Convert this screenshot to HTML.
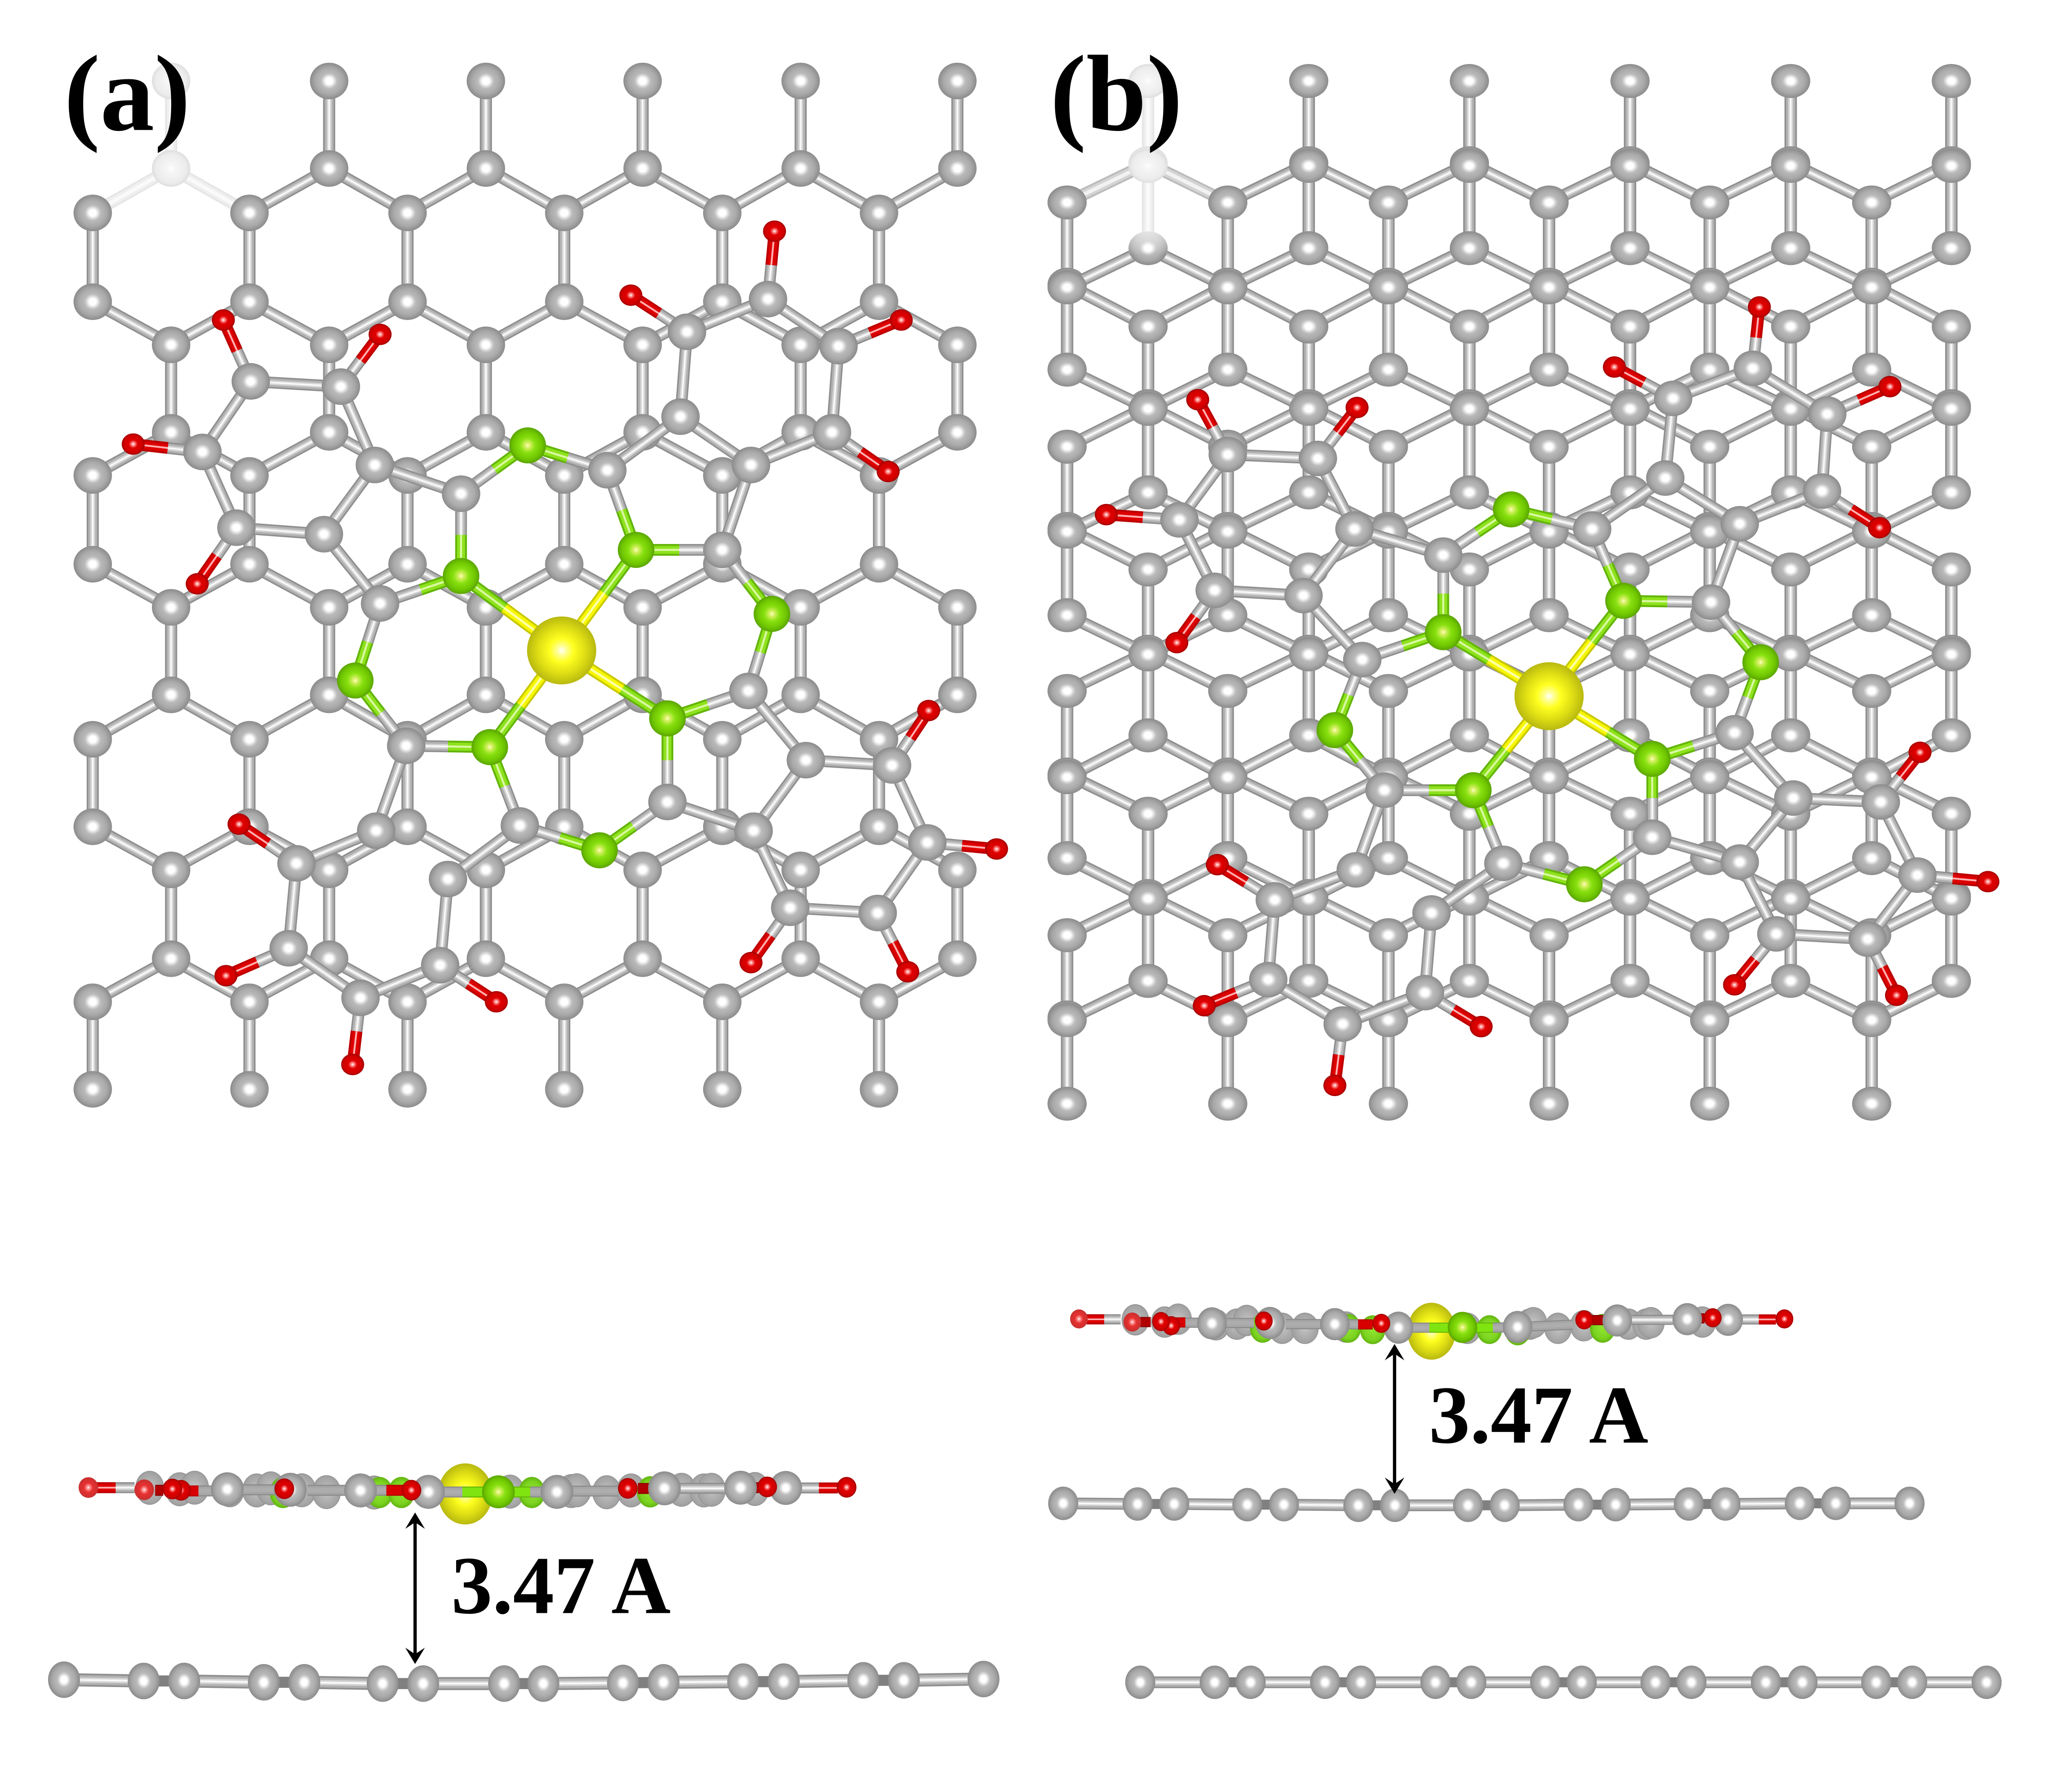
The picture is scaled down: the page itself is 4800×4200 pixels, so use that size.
<!DOCTYPE html>
<html>
<head>
<meta charset="utf-8">
<title>Molecule on graphene layers</title>
<style>
html,body{margin:0;padding:0;background:#fff;}
svg{display:block;}
text{font-family:"Liberation Serif",serif;font-weight:bold;fill:#000;}
</style>
</head>
<body>
<svg id="fig" xmlns="http://www.w3.org/2000/svg" width="4800" height="4200" viewBox="0 0 1568 1372">
<defs>
<radialGradient id="gC"><stop offset="0" stop-color="#fff"/><stop offset=".18" stop-color="#fff"/><stop offset=".42" stop-color="#bababa"/><stop offset=".72" stop-color="#a9a9a9"/><stop offset="1" stop-color="#8b8b8b"/></radialGradient>
<radialGradient id="gB"><stop offset="0" stop-color="#c4c4c4"/><stop offset=".6" stop-color="#adadad"/><stop offset=".92" stop-color="#a2a2a2"/><stop offset="1" stop-color="#8f8f8f"/></radialGradient>
<radialGradient id="gF"><stop offset="0" stop-color="#fff"/><stop offset=".2" stop-color="#f6f6f6"/><stop offset=".8" stop-color="#ececec"/><stop offset="1" stop-color="#dedede"/></radialGradient>
<radialGradient id="gG"><stop offset="0" stop-color="#fdfdc0"/><stop offset=".15" stop-color="#d4f060"/><stop offset=".42" stop-color="#88e010"/><stop offset=".78" stop-color="#6fc600"/><stop offset="1" stop-color="#5aa400"/></radialGradient>
<radialGradient id="gH"><stop offset="0" stop-color="#90e430"/><stop offset=".7" stop-color="#7cd420"/><stop offset="1" stop-color="#62b410"/></radialGradient>
<radialGradient id="gY"><stop offset="0" stop-color="#fff"/><stop offset=".12" stop-color="#ffffa0"/><stop offset=".35" stop-color="#ffff20"/><stop offset=".7" stop-color="#dcdc14"/><stop offset="1" stop-color="#b8b810"/></radialGradient>
<radialGradient id="gO"><stop offset="0" stop-color="#fff"/><stop offset=".14" stop-color="#ff9090"/><stop offset=".38" stop-color="#e00000"/><stop offset=".8" stop-color="#d00000"/><stop offset="1" stop-color="#a00000"/></radialGradient>
<radialGradient id="gL"><stop offset="0" stop-color="#fff"/><stop offset=".14" stop-color="#ffa0a0"/><stop offset=".45" stop-color="#e83030"/><stop offset="1" stop-color="#c83030"/></radialGradient>
<linearGradient id="gP" x1="0" y1="0" x2="0" y2="1"><stop offset="0" stop-color="#fff" stop-opacity=".8"/><stop offset=".7" stop-color="#fff" stop-opacity="0"/></linearGradient>
</defs>
<g id="layer"></g>
<text x="49" y="99.5" font-size="83">(a)</text>
<text x="804" y="99.5" font-size="83">(b)</text>
<text x="345.5" y="1235" font-size="63">3.47 A</text>
<text x="1094" y="1104.5" font-size="63">3.47 A</text>
</svg>
<script>
const latAB = [131,252,372,492,613,733];
const latAA = [71,191,312,432,553,673];
const latARows = [[62,129,'B'],[163,231,'A'],[264,331,'B'],[364,432,'A'],[465,532,'B'],[566,633,'A'],[666,734,'B'],[767,834,'A']];
const latBB = [879,1002,1125,1248,1371,1494];
const latBA = [817,940,1063,1186,1309,1433];
const latB1Rows = [[62,125,'B'],[155,218,'A'],[250,311,'B'],[342,405,'A'],[436,499,'B'],[529,593,'A'],[623,686,'B'],[716,779,'A']];
const latB2Rows = [[127,190,'B'],[220,283,'A'],[313,377,'B'],[407,471,'A'],[501,563,'B'],[595,657,'A'],[688,751,'B'],[781,845,'A']];

const flakeA = {c1:[192,292],c2:[261,296],c3:[155,346],c4:[181,404],c5:[248,409],c6:[287,356],c7:[353,378],g8:[404,341],c9:[465,360],c10:[521,319],c11:[526,254],c12:[588,229],c13:[642,265],c14:[637,331],c15:[575,356],c16:[553,421],g17:[487,421],g18:[353,441],Y:[430,498],g19:[511,550],g20:[375,572],c21:[291,462],g22:[272,521],c23:[311,571],c24:[398,632],g25:[459,651],c26:[511,614],c27:[573,529],g28:[591,470],c29:[617,582],c30:[577,636],c31:[683,586],c32:[710,645],c33:[672,699],c34:[605,695],c35:[288,636],c36:[227,661],c37:[221,726],c38:[276,764],c39:[337,739],c40:[343,673],
o1:[171,245],o2:[291,256],o3:[102,340],o4:[151,447],o5:[483,226],o6:[593,177],o7:[690,245],o8:[680,361],o9:[711,544],o10:[763,650],o11:[695,744],o12:[575,737],o13:[183,631],o14:[173,747],o15:[270,815],o16:[380,767]};
const flakeB = {c1:[940,348],c2:[1009,351],c3:[903,398],c4:[930,452],c5:[998,456],c6:[1037,405],c7:[1105,425],g8:[1157,390],c9:[1219,405],c10:[1275,366],c11:[1281,305],c12:[1342,282],c13:[1399,317],c14:[1395,376],c15:[1332,401],c16:[1310,461],g17:[1243,460],g18:[1105,484],Y:[1186,533],g19:[1265,581],g20:[1128,605],c21:[1043,505],g22:[1022,559],c23:[1060,605],c24:[1151,661],g25:[1213,677],c26:[1265,641],c27:[1328,561],g28:[1348,507],c29:[1373,611],c30:[1332,660],c31:[1440,614],c32:[1468,670],c33:[1430,719],c34:[1360,715],c35:[1038,666],c36:[976,689],c37:[971,750],c38:[1028,784],c39:[1091,760],c40:[1096,699],
o1:[917,306],o2:[1039,312],o3:[847,394],o4:[901,492],o5:[1236,281],o6:[1347,235],o7:[1447,296],o8:[1439,404],o9:[1470,576],o10:[1522,675],o11:[1452,762],o12:[1328,754],o13:[932,662],o14:[922,770],o15:[1022,831],o16:[1134,786]};
const flakeBonds = "c1-c2 c1-c3 c3-c4 c4-c5 c2-c6 c5-c6 c6-c7 c7-g8 g8-c9 c9-c10 c10-c11 c11-c12 c12-c13 c13-c14 c14-c15 c10-c15 c15-c16 c16-g17 c9-g17 c7-g18 g17-Y g18-Y g19-Y g20-Y c5-c21 g18-c21 c21-g22 g22-c23 c23-g20 g20-c24 c24-g25 g25-c26 g19-c26 g19-c27 c16-g28 g28-c27 c27-c29 c26-c30 c29-c30 c29-c31 c31-c32 c32-c33 c33-c34 c30-c34 c23-c35 c35-c36 c36-c37 c37-c38 c38-c39 c39-c40 c24-c40 o1-c1 o2-c2 o3-c3 o4-c4 o5-c11 o6-c12 o7-c13 o8-c14 o9-c31 o10-c32 o11-c33 o12-c34 o13-c36 o14-c37 o15-c38 o16-c39".split(" ");

const sideA_substrate_x = [49,110,141,202,233,293,324,386,416,477,508,569,600,661,692,753];
const sideA_substrate_y = [1286,1287,1287,1288,1288,1289,1289,1289,1289,1288.5,1288,1287.5,1287.5,1286.5,1286.5,1285.5];
const sideB_mid_x = [814,871,899,955,983,1040,1068,1124,1152,1208.5,1237,1293,1321,1378,1405.5,1462];
const sideB_mid_y = [1151,1151.5,1151.5,1152,1152,1152.5,1152.5,1152.5,1152.5,1152,1152,1151.5,1151.5,1151,1151,1151];
const sideB_low_x = [873,930,957.5,1014.5,1042,1099,1126.5,1183,1211,1267.5,1295,1352,1380,1436.5,1464,1521];
const sideB_low_y = [1288,1288,1288,1288,1288,1288,1288,1288,1288,1288,1288,1288,1288,1288,1288,1288];

const sideA_back = [[114.6,1139.1],[137.5,1140.2],[149,1139],[176,1141],[196.5,1141.1],[207.3,1139.5],[231,1141],[250,1142.4],[286.5,1142.7],[390.5,1142],[437.4,1141.6],[441.6,1141],[464.5,1142.5],[483.2,1141.1],[521.8,1140.6],[538.9,1141.1],[544.7,1140.6],[578,1140]];
const sideA_green = [[216.7,1142.7],[290.6,1142.7],[307.3,1142.7],[407.2,1142.7],[497.8,1142.2]];
const sideA_front = [[174,1140.2],[222.3,1140.6],[276,1141.1],[328,1142.2],[426.4,1142.2],[508.7,1139.5],[567,1139],[601.6,1139.2]];
const sideA_centerGreen = [381.6,1142.2];
const sideA_metal = [356.2,1143.8];
const sideA_redLight = [[67.7,1138.9],[110.4,1140.6]];
const sideA_red = [[138.6,1141],[132,1140],[217.7,1139.8],[315,1140.9],[480.7,1139.5],[587.4,1138.4],[648.2,1138.7]];
const sideA_tubes = [['o',74,1139,88.6,1139],['C',88.6,1139,103,1139],['D',118.8,1141,125,1141],['R',138.6,1141.5,152,1141.5],['T',152,1141.5,164.6,1141.5],['T',182,1140.6,211.5,1140.6],['T',235.5,1141,265.6,1141],['T',285.4,1141,295.8,1141],['R',295.8,1141,309,1141],['T',338.5,1142.3,354,1142.3],['G',354,1142.3,406,1142.3],['T',406,1142.3,418.7,1142.3],['T',436.8,1141.6,472.8,1141.6],['D',488.4,1139.6,496.8,1139.6],['T',496.8,1139.6,504,1139.6],['C',520.7,1139.5,555,1139.5],['T',569.7,1139.2,576,1139.2],['D',576,1139,581,1139],['C',612.4,1139.2,627,1139.2],['o',627,1139.2,641.5,1139.2]];

const sideB_back = [[869.2,1010.5],[891.7,1012.2],[902,1010],[931,1014.3],[947,1013.8],[954.5,1011],[981.7,1017],[999.1,1017],[1030.4,1016],[1123.4,1017],[1171.2,1013.8],[1174,1012.7],[1192.8,1017],[1212.5,1015],[1246.8,1013.8],[1260.3,1013.8],[1264,1012.7],[1303.4,1012.2]];
const sideB_green = [[966.7,1017],[1032.3,1017],[1051,1018.1],[1140.3,1018],[1162,1019],[1227,1017]];
const sideB_front = [[927.9,1013.2],[972.3,1012.9],[1022,1013.8],[1070.7,1016.5],[1161.9,1016],[1238.2,1011],[1291.8,1010],[1323.1,1010.5]];
const sideB_centerGreen = [1119.7,1016.3];
const sideB_metal = [1096,1019.2];
const sideB_redLight = [[826.1,1009.8],[866.9,1012.2]];
const sideB_red = [[896.7,1015],[888.9,1011.8],[967.6,1011.4],[1057.6,1013.2],[1212.9,1010.5],[1311.3,1008.9],[1366.2,1009.8]];
const sideB_tubes = [['o',832,1010.1,845.4,1010.1],['C',845.4,1010.1,858,1010.1],['D',873,1012.2,881,1012.2],['R',895.4,1012.5,907.6,1012.5],['T',907.6,1012.7,919,1012.7],['T',935.7,1012.9,960,1012.9],['T',984.5,1013.8,1012.6,1013.8],['T',1029.5,1013.8,1039.8,1014],['R',1039.8,1014,1051,1014],['T',1081,1016.5,1094.4,1016.5],['G',1094.4,1016.5,1143,1016.5],['T',1143,1016.5,1154.4,1016.3],['T',1171,1015.6,1204,1014.2],['D',1219,1010.7,1227.5,1010.7],['T',1227.5,1010.7,1234,1010.7],['C',1249,1010.5,1281,1010.5],['T',1294,1009.4,1299,1009.4],['D',1299,1009.4,1305,1009.4],['C',1333.8,1010.2,1346.6,1010.2],['o',1346.6,1010.2,1359.7,1010.2]];

const NS = "http://www.w3.org/2000/svg";
const root = document.getElementById('layer');
const tubeStyles = {
  C:[['#8f8f8f',1],['#b2b2b2',.74],['#d4d4d4',.4],['#f8f8f8',.15]],
  F:[['#e6e6e6',1],['#efefef',.7],['#fafafa',.3]],
  E:[['#bcbcbc',1],['#d4d4d4',.7],['#f2f2f2',.3]],
  T:[['#8c8c8c',1],['#a6a6a6',.78],['#adadad',.4]],
  g:[['#62b408',1],['#8ee21c',.68],['#d8f8a0',.18]],
  G:[['#66b808',1],['#80e410',.8]],
  Y:[['#c8c800',1],['#f6f600',.68],['#ffffa8',.2]],
  o:[['#bb0000',1],['#dd0000',.68],['#ffb0b0',.16]],
  R:[['#bb0000',1],['#d80000',.78]],
  D:[['#8e0000',1],['#b00000',.78]],
  S:[['#808080',1]]
};
function seg(x1,y1,x2,y2,kind,w,name){
  const g = document.createElementNS(NS,'g');
  
  
  tubeStyles[kind].forEach(function(s){
    const l = document.createElementNS(NS,'line');
    l.setAttribute('x1',x1);l.setAttribute('y1',y1);l.setAttribute('x2',x2);l.setAttribute('y2',y2);
    l.setAttribute('stroke',s[0]);l.setAttribute('stroke-width',w*s[1]);
    g.appendChild(l);
  });
  root.appendChild(g);
}
function atom(x,y,rx,ry,fill,name){
  const e = document.createElementNS(NS,'ellipse');
  e.setAttribute('cx',x);e.setAttribute('cy',y);e.setAttribute('rx',rx);e.setAttribute('ry',ry);
  e.setAttribute('fill','url(#'+fill+')');
  
  
  root.appendChild(e);
}
function lattice(A,B,rows,w,rx,ry,prefix,fadeX,fadeMaxY,zigKind){
  const isF = function(x,y){return x===fadeX&&y<=fadeMaxY;};
  const atoms = [];
  rows.forEach(function(r,i){
    const xs = r[2]==='A'?A:B;
    xs.forEach(function(x){
      const f = isF(x,r[0])||isF(x,r[1]);
      seg(x,r[0],x,r[1],f?'F':'C',w,prefix+'-bond');
      atoms.push([x,r[0]],[x,r[1]]);
    });
    if(i<rows.length-1){
      const n = rows[i+1];
      const lo = r[2]==='A'?A:B, hi = n[2]==='A'?A:B;
      lo.forEach(function(x){
        hi.forEach(function(u){
          if(Math.abs(u-x)<Math.abs(A[1]-A[0])*0.7){
            const f = isF(x,r[1])||isF(u,n[0]);
            seg(x,r[1],u,n[0],f?zigKind:'C',w,prefix+'-bond');
          }
        });
      });
    }
  });
  atoms.forEach(function(a){
    atom(a[0],a[1],rx,ry,isF(a[0],a[1])?'gF':'gC',prefix+'-carbon-atom');
  });
}
function kindOf(k){return k[0]==='c'?'C':k[0]==='g'?'g':k[0]==='Y'?'Y':'o';}
function flake(F,prefix,rx,ry){
  flakeBonds.forEach(function(b){
    const p=b.split('-');const P=F[p[0]],Q=F[p[1]];
    let t=.5;
    if(p[1]==='Y') t=.43;
    const mx=P[0]+(Q[0]-P[0])*t,my=P[1]+(Q[1]-P[1])*t;
    seg(P[0],P[1],mx,my,kindOf(p[0]),9,prefix+'-bond');
    seg(mx,my,Q[0],Q[1],kindOf(p[1]),9,prefix+'-bond');
  });
  Object.keys(F).forEach(function(k){
    const c=F[k];
    if(k[0]==='c') atom(c[0],c[1],rx,ry,'gC',prefix+'-carbon-atom');
    else if(k[0]==='g') atom(c[0],c[1],14,13.8,'gG',prefix+'-nitrogen-atom');
    else if(k==='Y') atom(c[0],c[1],26.5,26,'gY',prefix+'-metal-atom');
    else atom(c[0],c[1],8.8,8.2,'gO',prefix+'-oxygen-atom');
  });
}
function sideLayer(xs,ys,rx,ry,w,prefix){
  for(let i=0;i<xs.length-1;i++){
    seg(xs[i],ys[i],xs[i+1],ys[i+1],i%2===0?'C':'S',i%2===0?w:w*.85,prefix+'-bond');
  }
  xs.forEach(function(x,i){atom(x,ys[i],rx,ry,'gC',prefix+'-atom');});
}
function sideFlake(S){
  atom(S.metal[0],S.metal[1],S.mr[0],S.mr[1],'gY',S.name+'-metal-atom');
  S.back.forEach(function(a){atom(a[0],a[1],S.br[0],S.br[1],'gB',S.name+'-back-carbon-atom');});
  S.green.forEach(function(a){atom(a[0],a[1],S.br[0]*.92,S.br[1]*.92,'gH',S.name+'-back-nitrogen-atom');});
  S.tubes.forEach(function(t){seg(t[1],t[2],t[3],t[4],t[0],S.tw,S.name+'-bond');});
  S.front.forEach(function(a){atom(a[0],a[1],S.fr[0],S.fr[1],'gC',S.name+'-front-carbon-atom');});
  atom(S.center[0],S.center[1],S.fr[0],S.fr[1]*.97,'gG',S.name+'-front-nitrogen-atom');
  S.light.forEach(function(a){atom(a[0],a[1],S.or[0],S.or[1],'gL',S.name+'-oxygen-atom');});
  S.red.forEach(function(a){atom(a[0],a[1],S.or[0],S.or[1],'gO',S.name+'-oxygen-atom');});
}
function arrow(x,y1,y2,name){
  const g=document.createElementNS(NS,'g');
  
  
  const l=document.createElementNS(NS,'line');
  l.setAttribute('x1',x);l.setAttribute('x2',x);l.setAttribute('y1',y1+5);l.setAttribute('y2',y2-5);
  l.setAttribute('stroke','#000');l.setAttribute('stroke-width',2.5);
  g.appendChild(l);
  const p1=document.createElementNS(NS,'path');
  p1.setAttribute('d','M'+x+' '+y1+'l7.5 12.5-7.5-5-7.5 5z');
  g.appendChild(p1);
  const p2=document.createElementNS(NS,'path');
  p2.setAttribute('d','M'+x+' '+y2+'l7.5-12.5-7.5 5-7.5-5z');
  g.appendChild(p2);
  root.appendChild(g);
}

lattice(latAA,latAB,latARows,9.3,14.7,14,'lattice-a',131,129,'F');
flake(flakeA,'molecule-a',14.7,14);
lattice(latBA,latBB,latB1Rows,9.5,15,13,'lattice-b-layer-one',879,125,'E');
lattice(latBA,latBB,latB2Rows,9.5,15,13,'lattice-b-layer-two',879,127,'E');
atom(879,190,15.2,13.2,'gP','lattice-b-faded-carbon-overlay');
flake(flakeB,'molecule-b',14.7,13.6);

sideLayer(sideA_substrate_x,sideA_substrate_y,12.2,14,10,'side-a-substrate');
sideLayer(sideB_mid_x,sideB_mid_y,11.5,12.8,9,'side-b-middle-layer');
sideLayer(sideB_low_x,sideB_low_y,11.5,12.8,9,'side-b-bottom-layer');

sideFlake({name:'side-a-molecule',metal:sideA_metal,mr:[20.8,23.4],back:sideA_back,br:[11,13],green:sideA_green,tubes:sideA_tubes,tw:8.4,front:sideA_front,fr:[12.5,13],center:sideA_centerGreen,light:sideA_redLight,red:sideA_red,or:[7.5,7.9]});
sideFlake({name:'side-b-molecule',metal:sideB_metal,mr:[18.5,21.8],back:sideB_back,br:[10.5,12],green:sideB_green,tubes:sideB_tubes,tw:7.8,front:sideB_front,fr:[11.3,12.3],center:sideB_centerGreen,light:sideB_redLight,red:sideB_red,or:[6.8,7.3]});

arrow(317.8,1158,1274,'distance-arrow-a');
arrow(1067.7,1029,1143.7,'distance-arrow-b');
</script>
</body>
</html>
